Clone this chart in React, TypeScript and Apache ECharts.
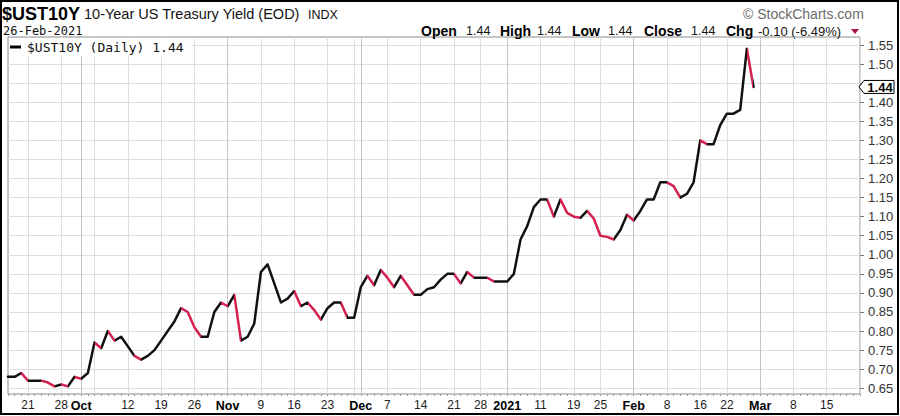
import React, { useEffect, useRef } from "react";
import * as echarts from "echarts";

// ---------- data ----------
const START_DATE = "2020-09-16";
const END_DATE = "2021-03-22";
const HOLIDAYS = ["2020-11-26", "2020-12-25", "2021-01-01", "2021-01-18", "2021-02-15"];
const MONTH_NAMES = ["Jan", "Feb", "Mar", "Apr", "May", "Jun", "Jul", "Aug", "Sep", "Oct", "Nov", "Dec"];

// daily closes from 16-Sep-2020 to 26-Feb-2021 (null = bond market closed)
const YIELDS: (number | null)[] = [
  0.68, 0.68, 0.69, 0.67, 0.67, 0.67, 0.665, 0.655, 0.66, 0.655,
  0.68, 0.675, 0.69, 0.77, 0.755, 0.8, 0.775, 0.785, null, 0.735,
  0.725, 0.735, 0.75, 0.775, 0.8, 0.825, 0.86, 0.85, 0.81, 0.785,
  0.785, 0.85, 0.875, 0.865, 0.895, 0.775, 0.785, 0.82, 0.955, 0.975,
  null, 0.875, 0.885, 0.905, 0.865, 0.875, 0.855, 0.83, 0.86, 0.875,
  0.875, 0.835, 0.835, 0.915, 0.945, 0.92, 0.96, 0.94, 0.915, 0.945,
  0.92, 0.895, 0.895, 0.91, 0.915, 0.935, 0.95, 0.95, 0.925, 0.955,
  0.94, 0.94, 0.94, 0.93, 0.93, 0.93, 0.95, 1.04, 1.075, 1.125,
  1.145, 1.145, 1.1, 1.145, 1.11, 1.1, 1.097, 1.115, 1.095, 1.05,
  1.047, 1.04, 1.065, 1.105, 1.09, 1.115, 1.145, 1.145, 1.19, 1.19,
  1.18, 1.15, 1.16, 1.19, 1.3, 1.29, 1.29, 1.34, 1.37, 1.37,
  1.38, 1.54, 1.44,
];

const Y_TICKS = [0.65, 0.7, 0.75, 0.8, 0.85, 0.9, 0.95, 1.0, 1.05, 1.1, 1.15, 1.2, 1.25, 1.3, 1.35, 1.4, 1.45, 1.5, 1.55];
const Y_MIN = 0.635;
const Y_MAX = 1.571;

const SYMBOL = "$UST10Y";
const NAME = "10-Year US Treasury Yield (EOD)";
const EXCHANGE = "INDX";
const AS_OF = "26-Feb-2021";
const SOURCE = "\u00A9 StockCharts.com";

const RED = "#d4214f";
const BLACK = "#111111";
const SANS = '"Liberation Sans", Arial, sans-serif';
const MONO = '"DejaVu Sans Mono", monospace';

function buildDays(): Date[] {
  const out: Date[] = [];
  const d = new Date(START_DATE + "T00:00:00Z");
  const end = new Date(END_DATE + "T00:00:00Z");
  while (d <= end) {
    const dow = d.getUTCDay();
    const key = d.toISOString().slice(0, 10);
    if (dow !== 0 && dow !== 6 && !HOLIDAYS.includes(key)) out.push(new Date(d.getTime()));
    d.setUTCDate(d.getUTCDate() + 1);
  }
  return out;
}

export default function App() {
  const ref = useRef<HTMLDivElement>(null);

  useEffect(() => {
    if (!ref.current) return;
    const chart = echarts.init(ref.current, undefined, { renderer: "svg" });

    const days = buildDays();
    const cats = days.map((d) => d.toISOString().slice(0, 10));
    const weekStart = days.map((d, i) => i > 0 && (d.getUTCDay() <= days[i - 1].getUTCDay() || d.getTime() - days[i - 1].getTime() >= 7 * 864e5));
    const monthStart = days.map((d, i) => i > 0 && d.getUTCMonth() !== days[i - 1].getUTCMonth());
    const monthIdx = monthStart.map((m, i) => (m ? i : -1)).filter((i) => i >= 0);
    const labels = days.map((d, i) => {
      if (i === days.length - 1) return "";
      if (monthStart[i]) return d.getUTCMonth() === 0 ? "M" + d.getUTCFullYear() : "M" + MONTH_NAMES[d.getUTCMonth()];
      if (weekStart[i] && !monthIdx.some((m) => Math.abs(m - i) <= 2)) return String(d.getUTCDate());
      return "";
    });

    const redPieces: any[] = [];
    for (let i = 1; i < YIELDS.length; i++) {
      const a = YIELDS[i - 1];
      const b = YIELDS[i];
      if (a != null && b != null && b < a) redPieces.push({ gt: i - 1, lte: i, color: RED });
    }

    const lastIdx = YIELDS.length - 1;
    const last = YIELDS[lastIdx] as number;
    const prev = YIELDS[lastIdx - 1] as number;
    const chg = last - prev;
    const pct = (chg / prev) * 100;
    const fmt = (v: number) => v.toFixed(2);

    const option: any = {
      animation: false,
      backgroundColor: "#ffffff",
      grid: { left: 8, right: 40, top: 37, bottom: 22, show: true, borderColor: "#8a8a8a", borderWidth: 1, backgroundColor: "transparent" },
      visualMap: {
        show: false,
        type: "piecewise",
        dimension: 0,
        seriesIndex: 0,
        pieces: redPieces,
        outOfRange: { color: BLACK },
      },
      xAxis: [
        {
          type: "category",
          data: cats,
          boundaryGap: false,
          axisLine: { show: false },
          axisTick: { show: true, interval: 0, length: 2, lineStyle: { color: "#9a9a9a" } },
          axisLabel: {
            interval: (i: number) => labels[i] !== "",
            margin: 5,
            fontFamily: SANS,
            fontSize: 12,
            color: "#222",
            formatter: (_v: string, i: number) => {
              const t = labels[i];
              return t.startsWith("M") ? `{m|${t.slice(1)}}` : t;
            },
            rich: { m: { fontFamily: SANS, fontSize: 12.5, fontWeight: "bold", color: "#000" } },
          },
          splitLine: { show: true, interval: (i: number) => weekStart[i] || monthStart[i], lineStyle: { color: "#dedede", width: 1 } },
        },
        {
          type: "category",
          data: cats,
          boundaryGap: false,
          position: "bottom",
          axisLine: { show: false },
          axisTick: { show: false },
          axisLabel: { show: false },
          splitLine: { show: true, interval: (i: number) => monthStart[i], lineStyle: { color: "#c4c4c4", width: 1 } },
        },
      ],
      yAxis: {
        type: "value",
        position: "right",
        min: Y_MIN,
        max: Y_MAX,
        axisLine: { show: false },
        axisTick: { show: true, length: 4, customValues: Y_TICKS, lineStyle: { color: "#777" } },
        axisLabel: {
          customValues: Y_TICKS,
          margin: 8,
          fontFamily: SANS,
          fontSize: 13,
          color: "#333",
          formatter: (v: number) => (Math.abs(v - last) < 0.025 ? "" : fmt(v)),
        },
        splitLine: { show: true, lineStyle: { color: "#dedede", width: 1 } },
      },
      series: [
        {
          type: "line",
          data: YIELDS,
          xAxisIndex: 0,
          showSymbol: false,
          connectNulls: true,
          silent: true,
          lineStyle: { width: 2.5, join: "round", cap: "round" },
          z: 3,
        },
        {
          type: "custom",
          xAxisIndex: 0,
          data: [[lastIdx, last]],
          clip: false,
          silent: true,
          z: 10,
          renderItem: (params: any, api: any) => {
            const pt = api.coord([api.value(0), api.value(1)]);
            const cs = params.coordSys;
            const xr = cs.x + cs.width;
            const y = pt[1];
            return {
              type: "group",
              children: [
                {
                  type: "polygon",
                  shape: { points: [[xr - 1, y], [xr + 4, y - 6.5], [xr + 34, y - 6.5], [xr + 34, y + 6.5], [xr + 4, y + 6.5]] },
                  style: { fill: "#fff", stroke: "#000", lineWidth: 1 },
                },
                {
                  type: "text",
                  x: xr + 20,
                  y: y + 0.5,
                  style: { text: fmt(api.value(1)), font: `bold 13px ${SANS}`, fill: "#000", align: "center", verticalAlign: "middle" },
                },
              ],
            };
          },
        },
      ],
      graphic: [
        { type: "rect", silent: true, shape: { x: 9, y: 38, width: 182, height: 18 }, style: { fill: "#fff" }, z: 5 },
        { type: "line", silent: true, shape: { x1: 10, y1: 47, x2: 21, y2: 47 }, style: { stroke: "#000", lineWidth: 3 }, z: 6 },
        { type: "text", silent: true, x: 27, y: 47, z: 6, style: { text: `${SYMBOL} (Daily) ${fmt(last)}`, font: `13px ${MONO}`, fill: "#111", verticalAlign: "middle" } },
        { type: "text", silent: true, x: 2, y: 14, style: { text: SYMBOL, font: `bold 18px ${SANS}`, fill: "#000", verticalAlign: "middle" } },
        { type: "text", silent: true, x: 84, y: 14, style: { text: NAME, font: `14.5px ${SANS}`, fill: "#111", verticalAlign: "middle" } },
        { type: "text", silent: true, x: 308, y: 14.5, style: { text: EXCHANGE, font: `12.5px ${SANS}`, fill: "#111", verticalAlign: "middle" } },
        { type: "text", silent: true, x: 3, y: 31, style: { text: AS_OF, font: `12px ${MONO}`, fill: "#111", verticalAlign: "middle" } },
        { type: "text", silent: true, x: 743, y: 13.5, style: { text: SOURCE, font: `14px ${SANS}`, fill: "#6a6a6a", verticalAlign: "middle" } },
        { type: "text", silent: true, x: 421, y: 31, style: { text: "Open", font: `bold 14px ${SANS}`, fill: "#000", verticalAlign: "middle" } },
        { type: "text", silent: true, x: 466, y: 31, style: { text: fmt(last), font: `12.5px ${SANS}`, fill: "#111", verticalAlign: "middle" } },
        { type: "text", silent: true, x: 500, y: 31, style: { text: "High", font: `bold 14px ${SANS}`, fill: "#000", verticalAlign: "middle" } },
        { type: "text", silent: true, x: 537, y: 31, style: { text: fmt(last), font: `12.5px ${SANS}`, fill: "#111", verticalAlign: "middle" } },
        { type: "text", silent: true, x: 572, y: 31, style: { text: "Low", font: `bold 14px ${SANS}`, fill: "#000", verticalAlign: "middle" } },
        { type: "text", silent: true, x: 608, y: 31, style: { text: fmt(last), font: `12.5px ${SANS}`, fill: "#111", verticalAlign: "middle" } },
        { type: "text", silent: true, x: 644, y: 31, style: { text: "Close", font: `bold 14px ${SANS}`, fill: "#000", verticalAlign: "middle" } },
        { type: "text", silent: true, x: 691, y: 31, style: { text: fmt(last), font: `12.5px ${SANS}`, fill: "#111", verticalAlign: "middle" } },
        { type: "text", silent: true, x: 726, y: 31, style: { text: "Chg", font: `bold 14px ${SANS}`, fill: "#000", verticalAlign: "middle" } },
        { type: "text", silent: true, x: 758, y: 31, style: { text: `${chg.toFixed(2)} (${pct.toFixed(2)}%)`, font: `13px ${SANS}`, fill: "#111", verticalAlign: "middle" } },
        { type: "polygon", silent: true, shape: { points: [[851, 29], [859, 29], [855, 34]] }, style: { fill: "#b0153c" } },
        { type: "rect", silent: true, shape: { x: 1, y: 1, width: 897, height: 413 }, style: { fill: "none", stroke: "#000", lineWidth: 2 } },
      ],
    };

    chart.setOption(option);
    return () => chart.dispose();
  }, []);

  return <div ref={ref} style={{ position: "fixed", left: 0, top: 0, width: 900, height: 416 }} />;
}
